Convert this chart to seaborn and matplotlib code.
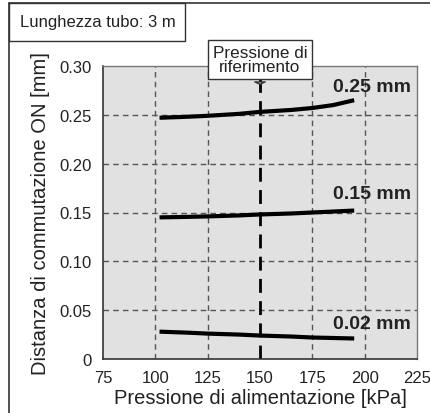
import matplotlib
matplotlib.use("Agg")
import matplotlib.pyplot as plt
from matplotlib.lines import Line2D
from matplotlib.patches import Rectangle
import seaborn as sns
import pandas as pd

# ---- data ----
pressure = [102, 115, 125, 140, 150, 165, 175, 185, 195]
d_025 = [0.247, 0.248, 0.249, 0.251, 0.253, 0.255, 0.257, 0.260, 0.265]
d_015 = [0.145, 0.1455, 0.146, 0.147, 0.148, 0.149, 0.150, 0.151, 0.152]
d_002 = [0.028, 0.027, 0.026, 0.025, 0.024, 0.023, 0.022, 0.0215, 0.021]
series_names = ["0.25 mm", "0.15 mm", "0.02 mm"]
label_y = [0.279, 0.169, 0.036]
x_ticks = [75, 100, 125, 150, 175, 200, 225]
y_ticks = [0, 0.05, 0.10, 0.15, 0.20, 0.25, 0.30]
y_tick_labels = ["0", "0.05", "0.10", "0.15", "0.20", "0.25", "0.30"]
ref_pressure = 150

n = len(pressure)
df = pd.DataFrame({
    "p": pressure * 3,
    "d": d_025 + d_015 + d_002,
    "s": [series_names[0]] * n + [series_names[1]] * n + [series_names[2]] * n,
})

sns.set_style("white")
plt.rcParams["font.family"] = ["Liberation Sans", "DejaVu Sans"]
TXT = "#222222"

fig = plt.figure(figsize=(4.3, 4.14), dpi=100)
ax = fig.add_axes([103 / 430, 1 - 360 / 414, (417 - 103) / 430, (360 - 67) / 414])
ax.set_facecolor("#e1e1e1")

# grid
for xv in [100, 125, 175, 200]:
    ax.axvline(xv, color="#555555", lw=1, ls=(0, (4, 3)), zorder=1)
for yv in [0.05, 0.10, 0.15, 0.20, 0.25]:
    ax.axhline(yv, color="#555555", lw=1, ls=(0, (4, 3)), zorder=1)
ax.axvline(ref_pressure, color="black", lw=2, ls=(0, (5, 3)), zorder=2)

sns.lineplot(data=df, x="p", y="d", units="s", estimator=None, color="black",
             lw=3, ax=ax, legend=False, zorder=3, solid_capstyle="butt")

for name, yv in zip(series_names, label_y):
    ax.text(222, yv, name, ha="right", va="center", fontsize=14,
            fontweight="bold", color=TXT, zorder=4)

ax.set_xlim(75, 225)
ax.set_ylim(0, 0.30)
ax.set_xticks(x_ticks)
ax.set_yticks(y_ticks)
ax.set_yticklabels(y_tick_labels)
ax.tick_params(length=0, labelsize=12, pad=8, colors=TXT)
ax.set_xlabel("Pressione di alimentazione [kPa]", fontsize=14.5, color=TXT, labelpad=2)
ax.set_ylabel("Distanza di commutazione ON [mm]", fontsize=14.5, color=TXT, labelpad=7)
for side in ["left", "bottom"]:
    ax.spines[side].set_color("#333333")
    ax.spines[side].set_linewidth(1.2)
for side in ["top", "right"]:
    ax.spines[side].set_color("#777777")
    ax.spines[side].set_linewidth(1)

# callout
ax.annotate("Pressione di\nriferimento", xy=(ref_pressure, 0.2785), xytext=(ref_pressure, 0.307),
            ha="center", va="center", fontsize=12.3, linespacing=0.9, color=TXT,
            bbox=dict(boxstyle="square,pad=0.3", fc="white", ec="#333333", lw=1),
            arrowprops=dict(arrowstyle="wedge,tail_width=0.6,shrink_factor=0.5", fc="white", ec="#333333", lw=1),
            annotation_clip=False, zorder=6)

# frame + top-left box
fig.add_artist(Line2D([9 / 430, 1], [1 - 4 / 414, 1 - 4 / 414], color="#333333", lw=1.2))
fig.add_artist(Line2D([9 / 430, 9 / 430], [0, 1 - 4 / 414], color="#333333", lw=1.2))
fig.add_artist(Rectangle((9 / 430, 1 - 42 / 414), (185 - 9) / 430, 38 / 414, fill=False,
                         ec="#333333", lw=1, transform=fig.transFigure))
fig.text(20 / 430, 1 - 23 / 414, "Lunghezza tubo: 3 m", ha="left", va="center", fontsize=12, color=TXT)

fig.savefig("out.png", dpi=100)
